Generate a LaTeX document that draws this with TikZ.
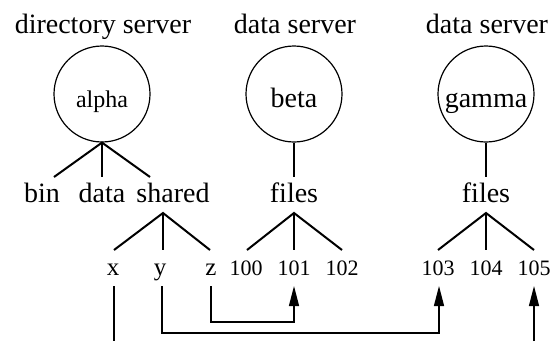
\documentclass[tikz,border=0pt]{standalone}
\usepackage{fontspec}
\setmainfont{Liberation Serif}
\usetikzlibrary{arrows.meta}
\begin{document}
\begin{tikzpicture}[x=1pt,y=-1pt,
  big/.style={inner sep=0pt,anchor=base,font=\fontsize{28}{30}\selectfont},
  leaf/.style={inner sep=0pt,anchor=base,font=\fontsize{22}{24}\selectfont},
  letter/.style={inner sep=0pt,anchor=base,font=\fontsize{25}{27}\selectfont},
  server/.style={draw,circle,minimum size=96pt,inner sep=0pt,line width=1.2pt},
  tree/.style={line width=2pt},
  link/.style={line width=1.3pt},
  ptr/.style={link,-{Triangle[length=20pt,width=10pt]}}]
\useasboundingbox (0,0) rectangle (553,341);

% server headings
\node[big] (h1) at (103,33) {directory server};
\node[big] (h2) at (295,33) {data server};
\node[big] (h3) at (487,33) {data server};

% servers
\node[server] (alpha) at (102,94) {};
\node[leaf,font=\fontsize{24}{26}\selectfont] (alphat) at (102,107) {alpha};
\node[server] (beta) at (294,94) {};
\node[big] (betat) at (294,107) {beta};
\node[server] (gamma) at (486,94) {};
\node[big] (gammat) at (486,107) {gamma};

% first level directories
\node[big] (bin) at (42,202) {bin};
\node[big] (data) at (102,202) {data};
\node[big] (shared) at (173,202) {shared};
\node[big] (files1) at (294,202) {files};
\node[big] (files2) at (486,202) {files};

% tree joints
\coordinate (bl) at (54,177);
\coordinate (dl) at (102,177);
\coordinate (sl) at (150,177);
\coordinate (f1l) at (294,177);
\coordinate (f2l) at (486,177);
\coordinate (st) at (163,213);
\coordinate (f1t) at (294,213);
\coordinate (f2t) at (486,213);

\draw[tree] (bl) -- (alpha.south) -- (sl);
\draw[tree] (alpha.south) -- (dl);
\draw[tree] (beta.south) -- (f1l);
\draw[tree] (gamma.south) -- (f2l);

% leaves
\node[letter] (x) at (113,275) {x};
\node[letter] (y) at (160,275) {y};
\node[letter] (z) at (211,275) {z};
\node[leaf] (n100) at (246,275) {100};
\node[leaf] (n101) at (294,275) {101};
\node[leaf] (n102) at (342,275) {102};
\node[leaf] (n103) at (438,275) {103};
\node[leaf] (n104) at (486,275) {104};
\node[leaf] (n105) at (534,275) {105};

\coordinate (xl) at (114,250);
\coordinate (yl) at (163,250);
\coordinate (zl) at (210,250);
\coordinate (al) at (247,250);
\coordinate (bl1) at (294,250);
\coordinate (cl) at (342,250);
\coordinate (dl2) at (438,250);
\coordinate (el) at (486,250);
\coordinate (fl) at (534,250);

\draw[tree] (xl) -- (st) -- (zl);
\draw[tree] (st) -- (yl);
\draw[tree] (al) -- (f1t) -- (cl);
\draw[tree] (f1t) -- (bl1);
\draw[tree] (dl2) -- (f2t) -- (fl);
\draw[tree] (f2t) -- (el);

% pointers between servers
\coordinate (xs) at (114,286);
\coordinate (xe) at (114,341);
\coordinate (ys) at (162,286);
\coordinate (zs) at (211,286);
\coordinate (t101) at (294,286);
\coordinate (t103) at (439,286);
\coordinate (t105) at (534,286);
\coordinate (s105) at (534,341);

\draw[link] (xs) -- (xe);
\draw[ptr] (ys) -- (162,333) -| (t103);
\draw[ptr] (zs) -- (211,322) -| (t101);
\draw[ptr] (s105) -- (t105);
\end{tikzpicture}
\end{document}
